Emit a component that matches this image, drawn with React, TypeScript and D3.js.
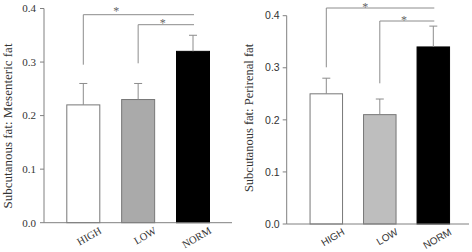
import React from "react";
import * as d3 from "d3";

const categories = ["HIGH", "LOW", "NORM"];
const mesentericValues = [0.22, 0.23, 0.32];
const mesentericErrors = [0.04, 0.03, 0.03];
const perirenalValues = [0.25, 0.21, 0.34];
const perirenalErrors = [0.03, 0.03, 0.04];
const yTicks = [0, 0.1, 0.2, 0.3, 0.4];
const leftBarFills = ["#ffffff", "#aaaaaa", "#000000"];
const rightBarFills = ["#ffffff", "#bebebe", "#000000"];

type Bracket = { from: number; to: number; y: number; legEnd: number; starY: number; starPos: number };

type PanelProps = {
  values: number[];
  errors: number[];
  fills: string[];
  ylabel: string;
  axisX: number;
  axisEnd: number;
  y0: number;
  y1: number;
  c0: number;
  c1: number;
  barW: number;
  tickFont: string;
  tickSize: number;
  catSize: number;
  tickGap: number;
  labelX: number;
  labelY: number;
  labelSize: number;
  brackets: Bracket[];
};

function Panel(p: PanelProps) {
  const y = d3.scaleLinear().domain([0, 0.4]).range([p.y0, p.y1]);
  const x = d3.scalePoint<string>().domain(categories).range([p.c0, p.c1]);
  const axisColor = "#808080";
  const grey = "#8c8c8c";
  return (
    <g>
      {categories.map((c, i) => (
        <rect
          key={c}
          x={(x(c) as number) - p.barW / 2}
          y={y(p.values[i])}
          width={p.barW}
          height={y(0) - y(p.values[i])}
          fill={p.fills[i]}
          stroke={i === 2 ? "#000" : "#777"}
          strokeWidth={1}
        />
      ))}
      {categories.map((c, i) => {
        const cx = x(c) as number;
        const top = y(p.values[i] + p.errors[i]);
        return (
          <g key={c} stroke={grey} strokeWidth={1}>
            <line x1={cx} x2={cx} y1={y(p.values[i])} y2={top} />
            <line x1={cx - 4} x2={cx + 4} y1={top} y2={top} />
          </g>
        );
      })}
      {p.brackets.map((b, k) => {
        const xa = x(categories[b.from]) as number;
        const xb = x(categories[b.to]) as number;
        return (
          <g key={k}>
            <path
              d={`M${xa},${b.legEnd}V${b.y}H${xb + 1}`}
              fill="none"
              stroke={grey}
              strokeWidth={1}
            />
            <text
              x={xa + (xb - xa) * b.starPos}
              y={b.starY}
              textAnchor="middle"
              fontFamily="Liberation Serif, serif"
              fontSize={12}
              fill="#666"
            >
              *
            </text>
          </g>
        );
      })}
      <line x1={p.axisX} x2={p.axisX} y1={y(0.4)} y2={y(0)} stroke={axisColor} />
      <line x1={p.axisX} x2={p.axisEnd} y1={y(0)} y2={y(0)} stroke={axisColor} />
      {yTicks.map((t) => (
        <g key={t}>
          <line x1={p.axisX - 4} x2={p.axisX} y1={y(t)} y2={y(t)} stroke={axisColor} />
          <text
            x={p.axisX - p.tickGap}
            y={y(t)}
            dy="0.35em"
            textAnchor="end"
            fontFamily={p.tickFont}
            fontSize={p.tickSize}
            fill="#333"
          >
            {t.toFixed(1)}
          </text>
        </g>
      ))}
      {categories.map((c) => (
        <text
          key={c}
          transform={`translate(${(x(c) as number) + 19},${y(0) + 10}) rotate(-30)`}
          textAnchor="end"
          fontFamily={p.tickFont}
          fontSize={p.catSize}
          fill="#333"
        >
          {c}
        </text>
      ))}
      <text
        transform={`translate(${p.labelX},${p.labelY}) rotate(-90)`}
        textAnchor="middle"
        dy="0.35em"
        fontFamily="Liberation Serif, serif"
        fontSize={p.labelSize}
        fill="#333"
      >
        {p.ylabel}
      </text>
    </g>
  );
}

export default function App() {
  return (
    <svg width={472} height={252} style={{ position: "absolute", left: 0, top: 0, background: "#fff" }}>
      <Panel
        values={mesentericValues}
        errors={mesentericErrors}
        fills={leftBarFills}
        ylabel="Subcutanous fat: Mesenteric fat"
        axisX={44}
        axisEnd={232}
        y0={222.7}
        y1={8.5}
        c0={83.3}
        c1={193}
        barW={33}
        tickFont="Liberation Serif, serif"
        tickSize={11}
        catSize={10.5}
        tickGap={8}
        labelX={7}
        labelY={126}
        labelSize={13}
        brackets={[
          { from: 0, to: 2, y: 14.7, legEnd: 64.7, starY: 15, starPos: 0.3 },
          { from: 1, to: 2, y: 24.7, legEnd: 63.3, starY: 27, starPos: 0.45 },
        ]}
      />
      <Panel
        values={perirenalValues}
        errors={perirenalErrors}
        fills={rightBarFills}
        ylabel="Subcutanous fat: Perirenal fat"
        axisX={286.7}
        axisEnd={469}
        y0={224}
        y1={15.7}
        c0={326.3}
        c1={433.3}
        barW={32.5}
        tickFont="Liberation Sans, Arial, sans-serif"
        tickSize={10.5}
        catSize={10}
        tickGap={7}
        labelX={249}
        labelY={118}
        labelSize={12.5}
        brackets={[
          { from: 0, to: 2, y: 8, legEnd: 67.3, starY: 11, starPos: 0.365 },
          { from: 1, to: 2, y: 21, legEnd: 83.3, starY: 23.5, starPos: 0.45 },
        ]}
      />
    </svg>
  );
}
